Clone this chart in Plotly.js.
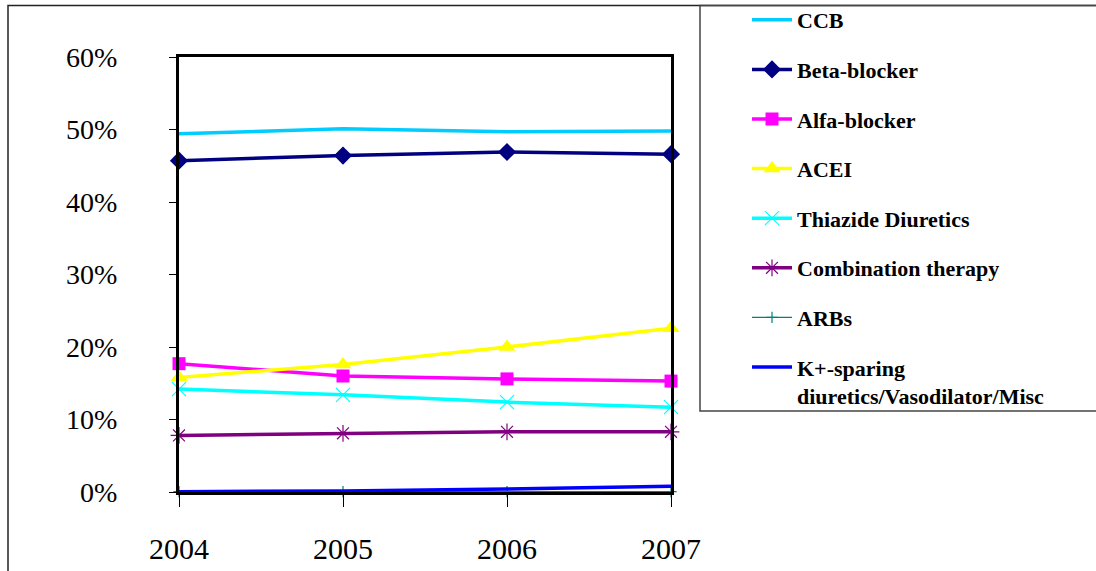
<!DOCTYPE html>
<html>
<head>
<meta charset="utf-8">
<script src="https://cdn.plot.ly/plotly-3.0.1.min.js"></script>
<style>html,body{margin:0;padding:0;background:#fff;}#chart{width:1096px;height:571px;}</style>
</head>
<body>
<div id="chart"></div>
<script>
const years = [2004, 2005, 2006, 2007];
const yearLabels = ["2004", "2005", "2006", "2007"];
const ccb = [0.494, 0.501, 0.497, 0.498];
const betaBlocker = [0.457, 0.464, 0.469, 0.466];
const alfaBlocker = [0.177, 0.160, 0.156, 0.153];
const acei = [0.158, 0.176, 0.200, 0.226];
const thiazide = [0.142, 0.134, 0.124, 0.117];
const combination = [0.078, 0.081, 0.083, 0.083];
const arbs = [0.0005, 0.0005, 0.0005, 0.0005];
const kSparing = [0.0005, 0.0015, 0.004, 0.008];
const yTicks = [0, 0.1, 0.2, 0.3, 0.4, 0.5, 0.6];
const yTickLabels = ["0%", "10%", "20%", "30%", "40%", "50%", "60%"];

function tr(name, y, color, lw, symbol, msize, open) {
  const t = {
    type: 'scatter', mode: symbol ? 'lines+markers' : 'lines', name: name,
    x: years, y: y, legendgroup: name, cliponaxis: false,
    line: {color: color, width: lw}
  };
  if (symbol) {
    t.marker = {symbol: symbol, size: msize, color: color};
    if (open) t.marker.line = {color: color, width: 1.2};
  }
  return t;
}

const data = [
  tr('CCB', ccb, '#00CCFF', 3.5, null),
  tr('Beta-blocker', betaBlocker, '#000080', 3.5, 'diamond', 14),
  tr('Alfa-blocker', alfaBlocker, '#FF00FF', 3.5, 'square', 13),
  tr('ACEI', acei, '#FFFF00', 3.5, 'triangle-up', 15),
  tr('Thiazide Diuretics', thiazide, '#00FFFF', 3.5, 'x-thin-open', 14, true),
  tr('Combination therapy', combination, '#800080', 3.5, 'asterisk-open', 14, true),
  tr('ARBs', arbs, '#008080', 1.2, 'cross-thin-open', 8, true),
  tr('K+-sparing<br>diuretics/Vasodilator/Misc', kSparing, '#0000FF', 3.5, null)
];

const L = 179, R = 671, T = 57, B = 492;
const W = R - L, H = B - T;
const px = v => (v - L) / W;
const py = v => (B - v) / H;
const serif = 'Times New Roman';

const layout = {
  width: 1096, height: 571,
  margin: {l: L, r: 1096 - R, t: T, b: 571 - B, pad: 0, autoexpand: false},
  paper_bgcolor: '#fff', plot_bgcolor: '#fff',
  showlegend: true,
  legend: {
    x: px(747), y: py(-1), xanchor: 'left', yanchor: 'top',
    bgcolor: 'rgba(0,0,0,0)', borderwidth: 0, maxheight: 1000,
    font: {family: serif, size: 22, color: '#000', weight: 'bold'},
    tracegroupgap: 18, valign: 'top', itemwidth: 40
  },
  xaxis: {
    range: [2004, 2007], tickvals: years, ticktext: yearLabels,
    showgrid: false, zeroline: false,
    showline: true, mirror: true, linecolor: '#000', linewidth: 3,
    ticks: 'outside', ticklen: 12, tickwidth: 1, tickcolor: '#000',
    ticklabelstandoff: 16,
    tickfont: {family: serif, size: 30, color: '#000'}
  },
  yaxis: {
    range: [0, 0.6], tickvals: yTicks, ticktext: yTickLabels,
    showgrid: false, zeroline: false,
    showline: true, mirror: true, linecolor: '#000', linewidth: 3,
    ticks: 'outside', ticklen: 7, tickwidth: 1, tickcolor: '#000',
    ticklabelstandoff: 46,
    tickfont: {family: serif, size: 28, color: '#000'}
  },
  shapes: [
    {type: 'rect', xref: 'paper', yref: 'paper', x0: px(8), x1: px(1110), y0: py(590), y1: py(5.5),
     line: {color: '#222', width: 1.5}, fillcolor: 'rgba(0,0,0,0)', layer: 'below'},
    {type: 'rect', xref: 'paper', yref: 'paper', x0: px(700), x1: px(1110), y0: py(411), y1: py(5.5),
     line: {color: '#444', width: 1.5}, fillcolor: 'rgba(0,0,0,0)', layer: 'below'}
  ]
};

Plotly.newPlot('chart', data, layout, {displayModeBar: false, staticPlot: true});
</script>
</body>
</html>
